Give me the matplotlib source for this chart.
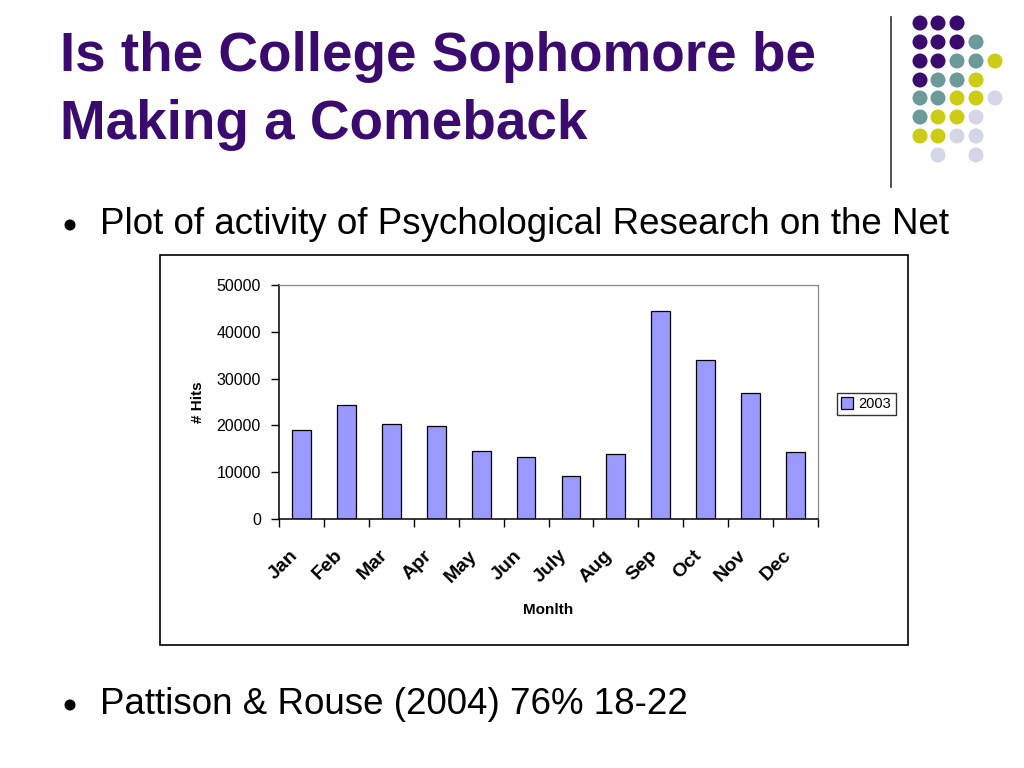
import numpy as np
import matplotlib
matplotlib.use('Agg')
import matplotlib.pyplot as plt
from matplotlib.patches import Rectangle, Circle

plt.rcParams['font.family'] = ['Liberation Sans', 'DejaVu Sans']

months = ['Jan', 'Feb', 'Mar', 'Apr', 'May', 'Jun', 'July', 'Aug', 'Sep', 'Oct', 'Nov', 'Dec']
hits_2003 = [19000, 24400, 20300, 19900, 14500, 13200, 9200, 13900, 44400, 34000, 26900, 14300]
y_ticks = [0, 10000, 20000, 30000, 40000, 50000]

title_lines = 'Is the College Sophomore be\nMaking a Comeback'
bullets = ['Plot of activity of Psychological Research on the Net',
           'Pattison & Rouse (2004) 76% 18-22']

purple = '#3B0A6E'
teal = '#6C9A9A'
yellow = '#CCCC14'
lav = '#D5D5E8'
bar_col = '#9999FF'

# decorative dot grid (rows top to bottom, None = empty)
P, T, Y, L, N = purple, teal, yellow, lav, None
dot_grid = [
    [P, P, P, N, N],
    [P, P, P, T, N],
    [P, P, T, T, Y],
    [P, T, T, Y, N],
    [T, T, Y, Y, L],
    [T, Y, Y, L, N],
    [Y, Y, L, L, N],
    [N, L, N, L, N],
]

W, H = 1024, 768
fig = plt.figure(figsize=(W / 100, H / 100), dpi=100)
fig.patch.set_facecolor('white')

# slide title
fig.text(60 / W, 1 - 91 / H, title_lines, fontsize=39.5, fontweight='bold',
         color=purple, ha='left', va='center', linespacing=1.38)

# dots + separator line
deco = fig.add_axes([0, 0, 1, 1], zorder=0)
deco.set_xlim(0, W)
deco.set_ylim(H, 0)
deco.axis('off')
deco.plot([891, 891], [17, 187], color='#333333', lw=1.2)
xs = [920, 938, 957, 976, 995]
ys = [23, 42, 61, 80, 98, 117, 136, 155]
for r, row in enumerate(dot_grid):
    for c, col in enumerate(row):
        if col is not None:
            deco.add_patch(Circle((xs[c], ys[r]), 7.5, color=col, lw=0))

# bullets
for txt, yy in zip(bullets, [224, 704]):
    deco.add_patch(Circle((70, yy + 1), 5.5, color='black', lw=0))
    fig.text(100 / W, 1 - yy / H, txt, fontsize=26.5, ha='left', va='center')

# chart frame
deco.add_patch(Rectangle((160, 255), 748, 390, fill=False, ec='black', lw=1.2))

# bar chart
ax = fig.add_axes([279 / W, 1 - 519 / H, (818 - 279) / W, (519 - 285) / H], zorder=2)
x = np.arange(len(months))
ax.bar(x, hits_2003, width=0.42, color=bar_col, edgecolor='black', linewidth=0.9, label='2003')
ax.set_xlim(-0.5, len(months) - 0.5)
ax.set_ylim(0, 50000)
ax.set_yticks(y_ticks)
ax.set_yticklabels([str(v) for v in y_ticks], fontsize=11.5)
ax.set_xticks(np.arange(-0.5, len(months), 1.0))
ax.set_xticklabels([])
# rotated labels end a little left of the category centre, like Excel does
ax.set_xticks(x - 0.28, minor=True)
ax.set_xticklabels(months, minor=True, rotation=45, ha='right', rotation_mode='anchor',
                   fontsize=14, fontweight='bold')
ax.tick_params(axis='x', which='minor', length=0, pad=20)
ax.tick_params(axis='x', which='major', direction='out', length=6, width=1)
ax.tick_params(axis='y', direction='out', length=6, width=1, pad=7)
for s in ['top', 'right']:
    ax.spines[s].set_color('#888888')
    ax.spines[s].set_linewidth(0.9)
for s in ['left', 'bottom']:
    ax.spines[s].set_linewidth(1.1)
ax.set_ylabel('# Hits', fontsize=11, fontweight='bold', labelpad=8)
ax.set_xlabel('Monlth', fontsize=11, fontweight='bold', labelpad=12)

leg = ax.legend(loc='center', bbox_to_anchor=(866 / W, 1 - 404 / H),
                bbox_transform=fig.transFigure, fontsize=10.5, frameon=True,
                fancybox=False, edgecolor='black', handlelength=0.8, handleheight=0.8,
                handletextpad=0.4, borderpad=0.3, borderaxespad=0)
leg.get_frame().set_linewidth(1.0)

fig.savefig('out.png', dpi=100)
